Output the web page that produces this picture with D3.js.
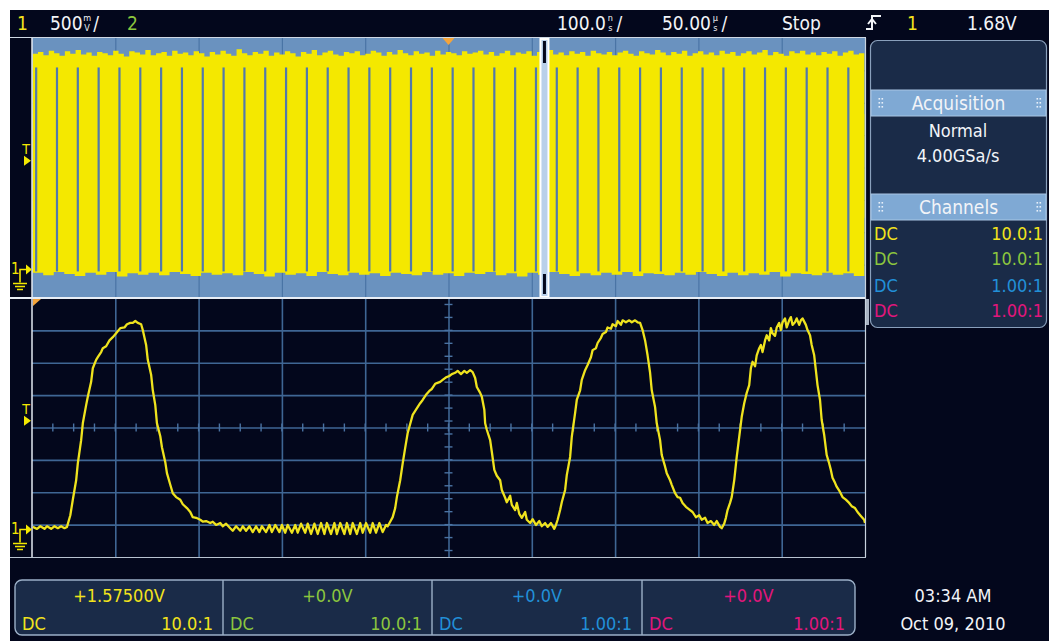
<!DOCTYPE html>
<html><head><meta charset="utf-8">
<script src="https://cdn.jsdelivr.net/npm/d3@7"></script>
<style>
body{margin:0;background:#fff}
svg{display:block}
text{font-family:"DejaVu Sans Condensed","DejaVu Sans",sans-serif;font-stretch:condensed}
</style>
</head><body>
<svg id="c" width="1049" height="641"></svg>
<script>
// ---------------- DATA ----------------
// zoomed trace (bottom window): [time ns, volts]
const zoomTrace = [
[-499,0.04],[-494,0.01],[-490,0.05],[-485,0.01],[-482,0.05],[-477,0.01],[-473,0.05],[-469,0.02],[-465,0.05],[-461,0.02],[-458,0.04],
[-454,0.22],[-451,0.46],[-447,0.76],[-445,1.02],[-441,1.38],[-439,1.64],[-435,1.92],[-433,2.05],[-429,2.28],[-427,2.49],[-423,2.62],[-421,2.66],
[-417,2.74],[-415,2.80],[-411,2.83],[-407,2.92],[-403,2.97],[-399,3.03],[-394,3.11],[-389,3.12],[-386,3.17],[-382,3.19],[-379,3.19],[-376,3.22],
[-373,3.19],[-369,3.17],[-367,3.08],[-363,2.85],[-361,2.62],[-357,2.39],[-355,2.15],[-352,1.92],[-350,1.64],[-346,1.44],[-344,1.27],[-340,1.04],
[-338,0.87],[-334,0.69],[-331,0.56],[-327,0.50],[-322,0.46],[-319,0.39],[-314,0.33],[-310,0.27],[-307,0.19],[-303,0.18],[-298,0.15],[-295,0.12],
[-291,0.13],[-286,0.10],[-283,0.12],[-279,0.07],[-274,0.10],[-271,0.05],[-267,0.09],[-262,0.02],
[-259,-0.02],[-255,0.05],[-250,-0.02],[-247,0.05],[-243,-0.02],[-239,0.05],[-235,-0.04],[-231,0.05],[-227,-0.04],[-224,0.05],[-219,-0.04],[-215,0.07],
[-212,-0.04],[-208,0.07],[-203,-0.04],[-200,0.07],[-196,-0.05],[-193,0.07],[-188,-0.05],[-184,0.07],[-181,-0.05],[-177,0.09],[-172,-0.05],[-169,0.09],
[-165,-0.07],[-161,0.09],[-157,-0.07],[-153,0.10],[-149,-0.07],[-146,0.10],[-141,-0.07],[-137,0.10],[-134,-0.07],[-130,0.10],[-125,-0.07],[-122,0.10],
[-118,-0.07],[-115,0.10],[-110,-0.07],[-106,0.10],[-103,-0.05],[-99,0.10],[-94,-0.05],[-91,0.10],[-87,-0.05],[-83,0.10],[-79,-0.04],[-75,0.07],[-73,0.05],
[-70,0.12],[-67,0.19],[-64,0.33],[-62,0.50],[-58,0.76],[-55,1.02],[-52,1.26],[-49,1.49],[-46,1.63],[-43,1.77],[-39,1.85],[-34,1.95],[-31,2.00],
[-27,2.08],[-23,2.14],[-20,2.17],[-16,2.25],[-14,2.26],[-10,2.28],[-7,2.31],[-3,2.35],[1,2.37],[4,2.40],[8,2.42],[11,2.45],[15,2.40],[19,2.45],
[22,2.42],[26,2.46],[29,2.43],[32,2.34],[34,2.20],[38,2.11],[40,2.05],[43,1.85],[44,1.64],[46,1.54],[50,1.38],[52,1.20],[55,0.92],[58,0.83],
[62,0.76],[64,0.61],[68,0.49],[70,0.42],[74,0.52],[76,0.38],[80,0.30],[82,0.41],[85,0.24],[88,0.18],[92,0.27],[94,0.15],[98,0.10],[101,0.16],
[105,0.07],[109,0.13],[112,0.05],[116,0.10],[119,0.04],[123,0.10],[127,0.01],[129,0.07],[131,0.15],[134,0.30],[136,0.42],[140,0.61],[142,0.84],
[146,1.12],[148,1.43],[152,1.80],[154,2.00],[158,2.15],[160,2.31],[164,2.46],[167,2.54],[171,2.66],[173,2.77],[177,2.80],[179,2.88],[183,2.96],
[185,3.02],[189,3.05],[191,3.12],[195,3.10],[197,3.17],[201,3.14],[203,3.22],[207,3.16],[209,3.23],[213,3.20],[217,3.23],[220,3.20],[224,3.23],
[227,3.20],[230,3.19],[233,3.08],[236,2.92],[239,2.69],[242,2.42],[244,2.15],[248,1.89],[250,1.64],[254,1.38],[256,1.15],[260,0.97],[262,0.87],
[266,0.76],[268,0.69],[272,0.56],[275,0.50],[278,0.49],[281,0.41],[285,0.35],[290,0.30],[293,0.27],[297,0.19],[301,0.22],[304,0.15],[308,0.18],
[311,0.10],[315,0.13],[319,0.07],[322,0.13],[326,0.04],[328,0.02],[331,0.09],[333,0.18],[335,0.30],[338,0.41],[340,0.50],[343,0.76],[346,1.12],
[349,1.43],[352,1.74],[355,1.95],[358,2.11],[361,2.23],[363,2.49],[365,2.59],[368,2.52],[370,2.69],[373,2.80],[375,2.85],[377,2.74],[380,2.92],
[382,3.00],[385,2.92],[387,3.11],[389,3.03],[392,2.99],[394,3.12],[397,3.19],[399,3.08],[401,3.20],[404,3.26],[406,3.12],[409,3.23],[411,3.28],
[413,3.16],[416,3.20],[418,3.26],[421,3.16],[423,3.23],[425,3.26],[429,3.16],[431,3.08],[434,3.00],[436,2.85],[439,2.69],[441,2.46],[443,2.23],
[446,2.00],[448,1.69],[451,1.46],[454,1.15],[457,1.02],[459,0.92],[461,0.80],[464,0.72],[466,0.66],[470,0.58],[473,0.50],[477,0.46],[481,0.41],
[484,0.36],[488,0.33],[491,0.27],[495,0.21],[499,0.15],[500,0.10]
];
// overview (top window): times (µs) where the burst signal drops out
const gapTimesUs = [-247.5,-235,-222.5,-210,-197.5,-185,-172.5,-160,-147.5,-135,-122.5,-110,-97.5,-85,-72.5,-60,-47.5,-35,-22.5,-10,
  2.5,15,27.5,40,52.5,65,77.5,90,102.5,115,127.5,140,152.5,165,177.5,190,202.5,215,227.5,240];
// overview envelope: upper and lower edge (volts), evenly spread across the record
const envelopeTopV = [3.33,3.36,3.31,3.38,3.34,3.30,3.37,3.33,3.39,3.32,3.35,3.30,3.36,3.34,3.31,3.38,3.33,3.29,3.37,3.35,3.32,3.39,3.31,3.34,
  3.36,3.30,3.38,3.33,3.35,3.31,3.37,3.34,3.29,3.36,3.32,3.38,3.33,3.30,3.40,3.34,3.31,3.36,3.33,3.38,3.30,3.35,3.32,3.37,3.34,3.29,3.36,3.33,
  3.39,3.31,3.35,3.38,3.32,3.30,3.36,3.34,3.37,3.31,3.33,3.38,3.35,3.30,3.36,3.32,3.39,3.34,3.31,3.37,3.33,3.35,3.30,3.38,3.32,3.36,3.34,3.31,
  3.37,3.33,3.35,3.38,3.32,3.36,3.30,3.34,3.38,3.31,3.35,3.33,3.37,3.30,3.36,3.34,3.39,3.32,3.35,3.31,3.37,3.33,3.36,3.30,3.38,3.34,3.32,3.36,
  3.31,3.35,3.38,3.33,3.30,3.37,3.34,3.32,3.39,3.35,3.31,3.36,3.33,3.38,3.30,3.34,3.37,3.32,3.35,3.31,3.38,3.33,3.36,3.30,3.34,3.37,3.32,3.35,
  3.39,3.31,3.36,3.33,3.30,3.37,3.34,3.38,3.32,3.35,3.31,3.36,3.33,3.37,3.30,3.35,3.38,3.32,3.34,3.36];
const envelopeBottomV = [-0.05,-0.09,-0.04,-0.07,-0.10,-0.05,-0.08,-0.04,-0.11,-0.06,-0.08,-0.05,-0.09,-0.04,-0.07,-0.10,-0.05,-0.08,-0.06,-0.09,
  -0.04,-0.07,-0.11,-0.05,-0.08,-0.06,-0.10,-0.04,-0.07,-0.09,-0.05,-0.08,-0.06,-0.10,-0.05,-0.07,-0.09,-0.04,-0.08,-0.06,-0.10,-0.05,
  -0.07,-0.04,-0.09,-0.06,-0.11,-0.05,-0.08,-0.04,-0.07,-0.10,-0.06,-0.09,-0.05,-0.08,-0.04,-0.10,-0.06,-0.07,-0.09,-0.05,-0.08,-0.04,
  -0.07,-0.10,-0.05,-0.09,-0.06,-0.08,-0.04,-0.11,-0.06,-0.07,-0.09,-0.05,-0.08,-0.06,-0.10,-0.04];
const zoomWindowCenterUs = 57.6;
const voltsPerDiv = 0.5, offsetV = 1.575, triggerV = 1.68;
const channelNames = ["1","2","3","4"];
const channelCoupling = ["DC","DC","DC","DC"];
const channelProbe = ["10.0:1","10.0:1","1.00:1","1.00:1"];
const channelOffset = ["+1.57500V","+0.0V","+0.0V","+0.0V"];
const channelColors = ["#f3e31c","#8cc63e","#2290d8","#e2167c"];
const topBar = {vdiv:"500", zoomDiv:"100.0", mainDiv:"50.00", state:"Stop", trigLevel:"1.68V"};
const acquisition = ["Normal","4.00GSa/s"];
const clock = ["03:34 AM","Oct 09, 2010"];

// ---------------- DRAW ----------------
const svg = d3.select("#c");
const W = 1049, H = 641;
const BG = "#03071c", YEL = "#f4e800", WHITE = "#f2f4f8";
svg.append("rect").attr("width", W).attr("height", H).attr("fill", "#fff");
svg.append("rect").attr("x", 10).attr("y", 10).attr("width", W - 10).attr("height", H - 10).attr("fill", BG);

const X0 = 32, X1 = 865;
const UT = 38, UB = 297, LT = 298, LB = 557;
const xMain = d3.scaleLinear().domain([-250, 250]).range([X0, X1]);
const yMain = d3.scaleLinear().domain([offsetV - 4 * voltsPerDiv, offsetV + 4 * voltsPerDiv]).range([UB, UT]);
const xZoom = d3.scaleLinear().domain([-500, 500]).range([X0, X1]);
const yZoom = d3.scaleLinear().domain([offsetV - 4 * voltsPerDiv, offsetV + 4 * voltsPerDiv]).range([LB, LT]);

function txt(x, y, s, o = {}) {
  return svg.append("text").attr("x", x).attr("y", y).text(s)
    .attr("fill", o.fill || WHITE).attr("font-size", o.size || 18)
    .attr("text-anchor", o.anchor || "start");
}

// ---- upper overview panel ----
svg.append("rect").attr("x", X0).attr("y", UT).attr("width", X1 - X0).attr("height", UB - UT).attr("fill", "#6a92bf");
const vGridVals = d3.range(-400, 401, 100);
const hGridVals = d3.range(-3, 4).map(k => offsetV + k * voltsPerDiv);
const ug1 = svg.append("g").attr("transform", `translate(0,${UB})`)
  .call(d3.axisBottom(xMain).tickValues(vGridVals.map(v => v / 2)).tickSize(-(UB - UT)).tickFormat(""));
ug1.select(".domain").remove();
ug1.selectAll("line").attr("stroke", "#4a74a5").attr("stroke-width", 1.2);
const ug2 = svg.append("g").attr("transform", `translate(${X0},0)`)
  .call(d3.axisLeft(yMain).tickValues(hGridVals).tickSize(-(X1 - X0)).tickFormat(""));
ug2.select(".domain").remove();
ug2.selectAll("line").attr("stroke", "#4a74a5").attr("stroke-width", 1);

const topIdx = d3.scaleLinear().domain([0, envelopeTopV.length - 1]).range([-249.6, 249.6]);
const botIdx = d3.scaleLinear().domain([0, envelopeBottomV.length - 1]).range([-249.6, 249.6]);
svg.append("path").datum(envelopeTopV)
  .attr("d", d3.area().curve(d3.curveStepAfter).x((d, i) => xMain(topIdx(i))).y0(yMain(0.8)).y1(d => yMain(d)))
  .attr("fill", YEL);
svg.append("path").datum(envelopeBottomV)
  .attr("d", d3.area().curve(d3.curveStepAfter).x((d, i) => xMain(botIdx(i))).y0(yMain(2.4)).y1(d => yMain(d)))
  .attr("fill", YEL);
svg.append("g").selectAll("rect").data(gapTimesUs).join("rect")
  .attr("x", d => xMain(d) - 1.1).attr("width", 2.2)
  .attr("y", yMain(3.12)).attr("height", yMain(-0.03) - yMain(3.12))
  .attr("fill", "#5279ab");
// zoom window marker
const zw = xMain(zoomWindowCenterUs);
svg.append("rect").attr("x", zw - 4).attr("y", UT + 1).attr("width", 8).attr("height", UB - UT - 1)
  .attr("fill", "#b9d0ea").attr("stroke", "#ffffff").attr("stroke-width", 2);
svg.append("rect").attr("x", zw - 1.5).attr("y", UT + 3).attr("width", 3).attr("height", 22).attr("fill", BG);
svg.append("rect").attr("x", zw - 1.5).attr("y", UB - 23).attr("width", 3).attr("height", 20).attr("fill", BG);
// orange time reference
svg.append("path").attr("d", `M${xMain(0) - 6},${UT} L${xMain(0) + 6},${UT} L${xMain(0)},${UT + 7}Z`).attr("fill", "#f4a43a");

// ---- lower zoom panel ----
const lg1 = svg.append("g").attr("transform", `translate(0,${LB})`)
  .call(d3.axisBottom(xZoom).tickValues(vGridVals).tickSize(-(LB - LT)).tickFormat(""));
lg1.select(".domain").remove();
lg1.selectAll("line").attr("stroke", "#3f6694").attr("stroke-width", 1.6);
const lg2 = svg.append("g").attr("transform", `translate(${X0},0)`)
  .call(d3.axisLeft(yZoom).tickValues(hGridVals).tickSize(-(X1 - X0)).tickFormat(""));
lg2.select(".domain").remove();
lg2.selectAll("line").attr("stroke", "#3f6694").attr("stroke-width", 1.6);
// minor ticks on centre lines
const yc = yZoom(offsetV), xc = xZoom(0);
svg.append("g").selectAll("line").data(d3.range(-475, 476, 25)).join("line")
  .attr("x1", d => xZoom(d)).attr("x2", d => xZoom(d)).attr("y1", yc - 4).attr("y2", yc + 4)
  .attr("stroke", "#4a72a2").attr("stroke-width", 1.4);
svg.append("g").selectAll("line").data(d3.range(-19, 20, 2).map(k => offsetV + k * 0.1)).join("line")
  .attr("y1", d => yZoom(d)).attr("y2", d => yZoom(d)).attr("x1", xc - 4).attr("x2", xc + 4)
  .attr("stroke", "#4a72a2").attr("stroke-width", 1.4);
// trace
svg.append("path").datum(zoomTrace)
  .attr("d", d3.line().x(d => xZoom(d[0])).y(d => yZoom(d[1])))
  .attr("fill", "none").attr("stroke", "#efe31e").attr("stroke-width", 2.3).attr("stroke-linejoin", "round");
// orange corner marker
svg.append("path").attr("d", `M${X0 + 1},${LT + 1} L${X0 + 9},${LT + 1} L${X0 + 1},${LT + 8}Z`).attr("fill", "#f4a43a");

// panel borders
svg.append("line").attr("x1", 10).attr("x2", 866).attr("y1", 37.5).attr("y2", 37.5).attr("stroke", "#cfd8e4").attr("stroke-width", 1.2);
svg.append("line").attr("x1", 10).attr("x2", 866).attr("y1", LT).attr("y2", LT).attr("stroke", "#e8eef6").attr("stroke-width", 2);
svg.append("line").attr("x1", 10).attr("x2", 866).attr("y1", LB + 0.5).attr("y2", LB + 0.5).attr("stroke", "#b8c2d0").attr("stroke-width", 1.2);
svg.append("line").attr("x1", X0).attr("x2", X0).attr("y1", UT).attr("y2", LB).attr("stroke", "#e4eaf2").attr("stroke-width", 1.5);
svg.append("line").attr("x1", X1 + 0.5).attr("x2", X1 + 0.5).attr("y1", UT).attr("y2", LB).attr("stroke", "#c8d2de").attr("stroke-width", 1.2);
svg.append("rect").attr("x", X1 + 1).attr("y", LT + 1).attr("width", 3).attr("height", 26).attr("fill", "#aab4c4");

// left markers (trigger level & ground)
function markers(yS) {
  const yt = yS(triggerV), yg = yS(0);
  txt(26, yt - 7, "T", {fill: YEL, size: 14, anchor: "middle"});
  svg.append("path").attr("d", `M24,${yt - 5} L31,${yt} L24,${yt + 5}Z`).attr("fill", YEL);
  txt(11, yg + 5, "1", {fill: YEL, size: 15});
  svg.append("path").attr("d", `M20,${yg + 13} V${yg} H26`).attr("fill", "none").attr("stroke", YEL).attr("stroke-width", 1.6);
  svg.append("path").attr("d", `M26,${yg - 5} L32,${yg} L26,${yg + 5}Z`).attr("fill", YEL);
  svg.append("path").attr("d", `M13,${yg + 14} H27 M15,${yg + 17} H25 M17,${yg + 20} H23`)
    .attr("stroke", YEL).attr("stroke-width", 1.5);
}
markers(yMain);
markers(yZoom);

// ---- top bar ----
function scaleLabel(x, main, up, down) {
  const t = txt(x, 30, main, {size: 19});
  const w = t.node().getComputedTextLength();
  txt(x + w + 4.5, 21, up, {size: 9, anchor: "middle"});
  txt(x + w + 4.5, 31, down, {size: 9, anchor: "middle"});
  txt(x + w + 10.5, 30, "/", {size: 19});
}
txt(17, 30, channelNames[0], {fill: channelColors[0], size: 19});
scaleLabel(50, topBar.vdiv, "m", "V");
txt(127, 30, channelNames[1], {fill: channelColors[1], size: 19});
scaleLabel(557, topBar.zoomDiv, "n", "s");
scaleLabel(662, topBar.mainDiv, "µ", "s");
txt(782, 30, topBar.state, {size: 19});
svg.append("path").attr("d", "M866,29 H872 V16 H881 M868,24 L872,19 L876,24").attr("fill", "none")
  .attr("stroke", WHITE).attr("stroke-width", 2);
txt(907, 30, channelNames[0], {fill: channelColors[0], size: 19});
txt(967, 30, topBar.trigLevel, {size: 19});

// ---- right side panel ----
const RP = {x: 870.5, y: 40.5, w: 176, h: 287};
svg.append("rect").attr("x", RP.x).attr("y", RP.y).attr("width", RP.w).attr("height", RP.h).attr("rx", 7)
  .attr("fill", "#1a2b48").attr("stroke", "#8aa0bc").attr("stroke-width", 1.2);
function header(y, label) {
  svg.append("rect").attr("x", RP.x + 0.5).attr("y", y).attr("width", RP.w - 1).attr("height", 26)
    .attr("fill", "#7fa9d4").attr("stroke", "#a9c6e4").attr("stroke-width", 1);
  [RP.x + 8, RP.x + RP.w - 10].forEach(gx => {
    for (let r = 0; r < 3; r++) for (let c = 0; c < 2; c++)
      svg.append("rect").attr("x", gx + c * 3).attr("y", y + 8 + r * 4).attr("width", 1.6).attr("height", 1.6).attr("fill", "#e8f0fa");
  });
  txt(RP.x + RP.w / 2, y + 20, label, {size: 19, anchor: "middle"});
}
header(90, "Acquisition");
txt(958, 137, acquisition[0], {anchor: "middle"});
txt(958, 162, acquisition[1], {anchor: "middle"});
header(194, "Channels");
const rowY = [240, 265, 292, 317];
channelCoupling.forEach((c, i) => {
  txt(874, rowY[i], c, {fill: channelColors[i]});
  txt(1043, rowY[i], channelProbe[i], {fill: channelColors[i], anchor: "end"});
});

// ---- bottom channel boxes ----
const boxEdges = [15, 223, 432, 642, 855];
svg.append("rect").attr("x", 15).attr("y", 580).attr("width", 840).attr("height", 55).attr("rx", 7)
  .attr("fill", "#1a2b48").attr("stroke", "#9cb0c8").attr("stroke-width", 1.4);
boxEdges.slice(1, 4).forEach(x => svg.append("line").attr("x1", x).attr("x2", x).attr("y1", 580).attr("y2", 635)
  .attr("stroke", "#9cb0c8").attr("stroke-width", 1.4));
channelOffset.forEach((s, i) => {
  const a = boxEdges[i], b = boxEdges[i + 1];
  txt((a + b) / 2, 602, s, {fill: channelColors[i], anchor: "middle"});
  txt(a + 7, 630, channelCoupling[i], {fill: channelColors[i]});
  txt(b - 10, 630, channelProbe[i], {fill: channelColors[i], anchor: "end"});
});
txt(953, 602, clock[0], {anchor: "middle"});
txt(953, 630, clock[1], {anchor: "middle"});
</script>
</body></html>
